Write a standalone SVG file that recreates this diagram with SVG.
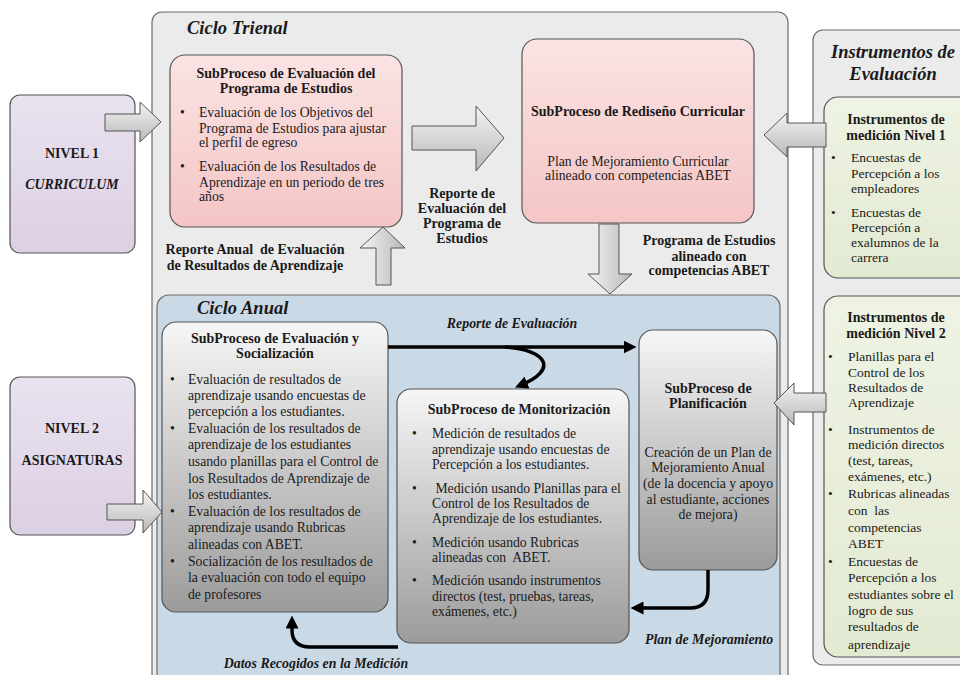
<svg xmlns="http://www.w3.org/2000/svg" width="960" height="675" viewBox="0 0 960 675">
<style>
text{font-family:"Liberation Serif","Times New Roman",serif;fill:#1a1a1a;font-size:13.7px}
.b{font-weight:bold;font-size:14px}
.bi{font-weight:bold;font-style:italic;font-size:13.9px}
.c{text-anchor:middle}
.hd{font-size:18.5px}
.inst text{font-size:13.5px}
.inst text.b{font-size:14px}
.cont{stroke:#6a6a6a;stroke-width:1.2}
.box{stroke:#555;stroke-width:1.2}
.blk{fill:url(#gArrow);stroke:#555;stroke-width:1}
.conn{fill:none;stroke:#000;stroke-width:3.5}
</style>
<defs>
<linearGradient id="gPink" x1="0" y1="0" x2="0" y2="1"><stop offset="0" stop-color="#fbe3e3"/><stop offset="1" stop-color="#f4c5c5"/></linearGradient>
<linearGradient id="gLav" x1="0" y1="0" x2="0" y2="1"><stop offset="0" stop-color="#e9e2ef"/><stop offset="1" stop-color="#dcd0e4"/></linearGradient>
<linearGradient id="gGray" x1="0" y1="0" x2="0" y2="1"><stop offset="0" stop-color="#f6f6f6"/><stop offset="1" stop-color="#9b9b9b"/></linearGradient>
<linearGradient id="gGreen" x1="0" y1="0" x2="0" y2="1"><stop offset="0" stop-color="#eef3e3"/><stop offset="1" stop-color="#e3ead2"/></linearGradient>
<linearGradient id="gArrow" x1="0" y1="0" x2="0" y2="1"><stop offset="0" stop-color="#f4f4f4"/><stop offset="1" stop-color="#b8b8b8"/></linearGradient>
<linearGradient id="gArrowH" x1="0" y1="0" x2="1" y2="0"><stop offset="0" stop-color="#f4f4f4"/><stop offset="1" stop-color="#b8b8b8"/></linearGradient>
<marker id="ah" viewBox="0 0 10 10" refX="5" refY="5" markerWidth="13" markerHeight="13" markerUnits="userSpaceOnUse" orient="auto"><path d="M0,0 L10,5 L0,10 z" fill="#000"/></marker>
</defs>

<!-- containers -->
<g id="ciclo-trienal">
<rect class="cont" x="152" y="12" width="636" height="680" rx="10" fill="#ebebeb"/>
<text class="bi hd" x="187" y="34">Ciclo Trienal</text>
</g>
<g id="instrumentos">
<rect class="cont" x="813" y="30" width="170" height="635" rx="10" fill="#ebebeb"/>
<text class="bi c hd" x="893" y="58">Instrumentos de</text>
<text class="bi c hd" x="893" y="80">Evaluación</text>
</g>
<g id="ciclo-anual">
<rect class="cont" x="157" y="295" width="623" height="395" rx="12" fill="#c9d9e6"/>
<text class="bi hd" x="197" y="314">Ciclo Anual</text>
</g>

<!-- nodes -->
<g id="nivel1">
<rect class="box" x="10" y="95" width="125" height="158" rx="10" fill="url(#gLav)"/>
<text class="b c" x="72" y="158">NIVEL 1</text>
<text class="bi c" x="72" y="189">CURRICULUM</text>
</g>
<g id="nivel2">
<rect class="box" x="10" y="377" width="125" height="158" rx="10" fill="url(#gLav)"/>
<text class="b c" x="72" y="433">NIVEL 2</text>
<text class="b c" x="72" y="465">ASIGNATURAS</text>
</g>

<g id="sp-eval-programa">
<rect class="box" x="170" y="55" width="232" height="172" rx="15" fill="url(#gPink)"/>
<text class="b c" x="286" y="78">SubProceso de Evaluación del</text>
<text class="b c" x="286" y="93">Programa de Estudios</text>
<text x="180" y="117">•</text>
<text x="199" y="117">Evaluación de los Objetivos del</text>
<text x="199" y="133">Programa de Estudios para ajustar</text>
<text x="199" y="147">el perfil de egreso</text>
<text x="180" y="171">•</text>
<text x="199" y="171">Evaluación de los Resultados de</text>
<text x="199" y="187">Aprendizaje en un periodo de tres</text>
<text x="199" y="201">años</text>
</g>

<g id="sp-rediseno">
<rect class="box" x="522" y="39" width="232" height="184" rx="15" fill="url(#gPink)"/>
<text class="b c" x="638" y="116">SubProceso de Rediseño Curricular</text>
<text class="c" x="638" y="166">Plan de Mejoramiento Curricular</text>
<text class="c" x="638" y="180">alineado con competencias ABET</text>
</g>

<g id="inst-nivel1" class="inst">
<rect class="box" x="824" y="97" width="150" height="181" rx="14" fill="url(#gGreen)"/>
<text class="b c" x="896" y="124">Instrumentos de</text>
<text class="b c" x="896" y="140">medición Nivel 1</text>
<text x="831" y="162">•</text>
<text x="851" y="162">Encuestas de</text>
<text x="851" y="178">Percepción a los</text>
<text x="851" y="193">empleadores</text>
<text x="831" y="217">•</text>
<text x="851" y="217">Encuestas de</text>
<text x="851" y="232">Percepción a</text>
<text x="851" y="247">exalumnos de la</text>
<text x="851" y="262">carrera</text>
</g>

<g id="inst-nivel2" class="inst">
<rect class="box" x="824" y="296" width="150" height="361" rx="14" fill="url(#gGreen)"/>
<text class="b c" x="896" y="322">Instrumentos de</text>
<text class="b c" x="896" y="338">medición Nivel 2</text>
<text x="828" y="361">•</text>
<text x="848" y="361">Planillas para el</text>
<text x="848" y="377">Control de los</text>
<text x="848" y="392">Resultados de</text>
<text x="848" y="407">Aprendizaje</text>
<text x="828" y="434">•</text>
<text x="848" y="434">Instrumentos de</text>
<text x="848" y="449">medición directos</text>
<text x="848" y="465">(test, tareas,</text>
<text x="848" y="481">exámenes, etc.)</text>
<text x="828" y="498">•</text>
<text x="848" y="498">Rubricas alineadas</text>
<text x="848" y="515" xml:space="preserve">con  las</text>
<text x="848" y="532">competencias</text>
<text x="848" y="548">ABET</text>
<text x="828" y="566">•</text>
<text x="848" y="566">Encuestas de</text>
<text x="848" y="582">Percepción a los</text>
<text x="848" y="599">estudiantes sobre el</text>
<text x="848" y="615">logro de sus</text>
<text x="848" y="631">resultados de</text>
<text x="848" y="649">aprendizaje</text>
</g>

<g id="sp-eval-social">
<rect class="box" x="162" y="322" width="226" height="290" rx="14" fill="url(#gGray)"/>
<text class="b c" x="275" y="343">SubProceso de Evaluación y</text>
<text class="b c" x="275" y="358">Socialización</text>
<text x="170" y="384">•</text>
<text x="188" y="384">Evaluación de resultados de</text>
<text x="188" y="400">aprendizaje usando encuestas de</text>
<text x="188" y="416">percepción a los estudiantes.</text>
<text x="170" y="433">•</text>
<text x="188" y="433">Evaluación de los resultados de</text>
<text x="188" y="449">aprendizaje de los estudiantes</text>
<text x="188" y="466">usando planillas para el Control de</text>
<text x="188" y="483">los Resultados de Aprendizaje de</text>
<text x="188" y="499">los estudiantes.</text>
<text x="170" y="516">•</text>
<text x="188" y="516">Evaluación de los resultados de</text>
<text x="188" y="532">aprendizaje usando Rubricas</text>
<text x="188" y="549">alineadas con ABET.</text>
<text x="170" y="566">•</text>
<text x="188" y="566">Socialización de los resultados de</text>
<text x="188" y="582">la evaluación con todo el equipo</text>
<text x="188" y="599">de profesores</text>
</g>

<g id="sp-monitorizacion">
<rect class="box" x="397" y="389" width="232" height="254" rx="14" fill="url(#gGray)"/>
<text class="b c" x="519" y="414">SubProceso de Monitorización</text>
<text x="412" y="438">•</text>
<text x="432" y="438">Medición de resultados de</text>
<text x="432" y="454">aprendizaje usando encuestas de</text>
<text x="432" y="469">Percepción a los estudiantes.</text>
<text x="412" y="493">•</text>
<text x="432" y="493" xml:space="preserve"> Medición usando Planillas para el</text>
<text x="432" y="508">Control de los Resultados de</text>
<text x="432" y="523">Aprendizaje de los estudiantes.</text>
<text x="412" y="547">•</text>
<text x="432" y="547">Medición usando Rubricas</text>
<text x="432" y="562" xml:space="preserve">alineadas con  ABET.</text>
<text x="412" y="585">•</text>
<text x="432" y="585">Medición usando instrumentos</text>
<text x="432" y="601">directos (test, pruebas, tareas,</text>
<text x="432" y="616">exámenes, etc.)</text>
</g>

<g id="sp-planificacion">
<rect class="box" x="639" y="330" width="138" height="240" rx="14" fill="url(#gGray)"/>
<text class="b c" x="708" y="393">SubProceso de</text>
<text class="b c" x="708" y="408">Planificación</text>
<text class="c" x="708" y="457">Creación de un Plan de</text>
<text class="c" x="708" y="472">Mejoramiento Anual</text>
<text class="c" x="708" y="488">(de la docencia y apoyo</text>
<text class="c" x="708" y="504">al estudiante, acciones</text>
<text class="c" x="708" y="519">de mejora)</text>
</g>

<!-- connectors -->
<g id="connectors">
<polygon class="blk" points="105,114 140,114 140,102 161,122 140,142 140,131 105,131"/>
<polygon class="blk" points="107,504 143,504 143,490 162,512 143,533 143,520 107,520"/>
<polygon class="blk" points="412,126 476,126 476,106 504,138 476,171 476,150 412,150"/>
<polygon class="blk" style="fill:url(#gArrowH)" points="376,285 376,248 360,248 383,227 405,248 391,248 391,285"/>
<polygon class="blk" style="fill:url(#gArrowH)" points="599,224 619,224 619,274 632,274 610,294 588,274 599,274"/>
<polygon class="blk" points="826,123 787,123 787,113 764,135 787,157 787,147 826,147"/>
<polygon class="blk" points="826,393 794,393 794,383 774,403 794,425 794,412 826,412"/>

<path class="conn" d="M388,347 L630,347" marker-end="url(#ah)"/>
<path class="conn" d="M505,347 C548,350 558,370 521,385" marker-end="url(#ah)"/>
<path class="conn" d="M708,570 L708,590 Q708,608 690,608 L637,608" marker-end="url(#ah)"/>
<path class="conn" d="M398,647 L310,647 Q292,647 292,630 L292,622" marker-end="url(#ah)"/>

<text class="b c" x="462" y="198">Reporte de</text>
<text class="b c" x="462" y="213">Evaluación del</text>
<text class="b c" x="462" y="228">Programa de</text>
<text class="b c" x="462" y="243">Estudios</text>
<text class="b c" x="709" y="245">Programa de Estudios</text>
<text class="b c" x="709" y="261">alineado con</text>
<text class="b c" x="709" y="275">competencias ABET</text>
<text class="b c" x="255" y="254" xml:space="preserve">Reporte Anual  de Evaluación</text>
<text class="b c" x="255" y="270">de Resultados de Aprendizaje</text>
<text class="bi c" x="512" y="328">Reporte de Evaluación</text>
<text class="bi c" x="316" y="668">Datos Recogidos en la Medición</text>
<text class="bi" x="645" y="644">Plan de Mejoramiento</text>
</g>
</svg>
